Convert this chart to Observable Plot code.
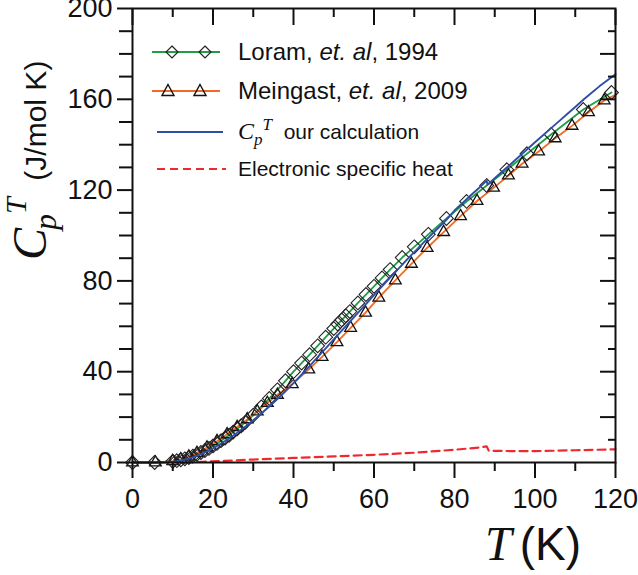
<!DOCTYPE html>
<html>
<head>
<meta charset="utf-8">
<script src="https://cdn.jsdelivr.net/npm/d3@7"></script>
<script src="https://cdn.jsdelivr.net/npm/@observablehq/plot@0.6"></script>
<style>
  body { margin: 0; background: #fff; }
  #wrap { position: relative; width: 638px; height: 575px; overflow: hidden; }
  .sans { font-family: "Liberation Sans", Arial, sans-serif; }
  .serif { font-family: "Liberation Serif", "Times New Roman", serif; font-style: italic; }
  .lrow { position: absolute; left: 148px; display: flex; align-items: center; white-space: nowrap; color: #111; }
</style>
</head>
<body>
<div id="wrap"></div>
<script>
// ---- Data ----
const loramT = [0, 5.5, 10, 11, 12, 13, 14, 15, 16, 17, 18, 19, 20, 21, 22, 23, 24, 25, 26, 27, 28, 30, 32, 34, 36, 38, 40, 42, 44, 46, 48, 50, 51, 52, 53, 54, 56, 58, 60, 62, 64, 67, 70, 73.5, 78, 83, 88, 93, 98, 104, 112, 119];
const loramC = [0, 0, 0.5, 0.8, 1.2, 1.6, 2.2, 2.8, 3.6, 4.4, 5.3, 6.2, 7.3, 8.4, 9.6, 10.8, 12.0, 13.4, 14.8, 16.2, 17.7, 20.8, 24.5, 28.2, 32, 36, 40, 43.8, 47.5, 51.4, 55.2, 59, 61, 62.8, 64.6, 66.5, 70.3, 74, 77.6, 81.3, 85, 90.3, 95, 100.5, 107.5, 115, 122, 129, 136, 144.5, 155.5, 163];

const meinT = [0, 5.7, 10, 12, 14, 16, 18.5, 21, 23.5, 26, 28.5, 31, 33.5, 36, 39.7, 43.8, 47.1, 50.8, 54.2, 57.9, 61.2, 65.3, 69.3, 73.2, 77.3, 81.5, 85.6, 89.7, 93.4, 96.8, 100.9, 105, 109.2, 113.3, 117.2];
const meinC = [0, 0, 0.6, 1.4, 2.6, 4.2, 6.6, 9.4, 12.4, 15.6, 19, 22.5, 26.2, 29.8, 34.5, 41, 46.5, 53, 59.3, 66, 72.6, 80.2, 87.5, 94.5, 101.5, 108.5, 115.2, 121, 126.4, 131.6, 137, 142.8, 148.3, 154.3, 159.5];
const meinLineEndT = 120;
const meinLineEndC = 162;

const calcT = [0, 8, 10, 12, 14, 16, 18, 20, 22, 24, 26, 28, 30, 32, 34, 36, 38, 40, 42, 44, 46, 48, 50, 52, 54, 56, 58, 60, 62, 64, 66, 68, 70, 72, 74, 76, 78, 80, 82, 84, 86, 88, 88.2, 90, 92, 94, 96, 98, 100, 102, 104, 106, 108, 110, 112, 114, 116, 118, 120];
const calcC = [0, 0, 0.2, 0.8, 1.7, 2.9, 4.4, 6.2, 8.3, 10.6, 13.1, 15.8, 18.6, 21.6, 24.7, 28, 31.4, 35, 38.7, 42.5, 46.4, 50.3, 54.2, 58.1, 62, 65.9, 69.8, 73.7, 77.6, 81.4, 85.2, 89, 92.7, 96.3, 99.9, 103.4, 106.9, 111, 114.3, 117.6, 120.8, 124.2, 122.4, 125.2, 128.4, 131.5, 134.7, 137.9, 141.1, 144.2, 147.3, 150.4, 153.5, 156.6, 159.8, 162.8, 165.7, 168.4, 171];

const elecT = [13, 20, 30, 40, 50, 60, 70, 80, 86, 88, 88.5, 95, 100, 110, 120];
const elecC = [0, 0.5, 1.3, 2.0, 2.7, 3.4, 4.3, 5.6, 6.6, 7.1, 5.2, 5.0, 5.0, 5.4, 5.8];

const xMajorTicks = [0, 20, 40, 60, 80, 100, 120];
const xMinorTicks = [10, 30, 50, 70, 90, 110];
const yLabelTicks = [0, 40, 80, 120, 160, 200];
const yOtherTicks = [10, 20, 30, 50, 60, 70, 90, 100, 110, 130, 140, 150, 170, 180, 190];
const yRightMajor = [20, 40, 60, 80, 100, 120, 140, 160, 180];
const yRightMinor = [10, 30, 50, 70, 90, 110, 130, 150, 170, 190];

const colors = { loram: "#1f9e45", mein: "#f26a21", calc: "#2f4ea5", elec: "#ee2a31" };

// ---- Tables ----
const zip = (xs, ys) => xs.map((t, i) => ({T: t, C: ys[i]}));
const loram = zip(loramT, loramC);
const mein = zip(meinT, meinC);
const meinLine = mein.concat([{T: meinLineEndT, C: meinLineEndC}]);
const calc = zip(calcT, calcC);
const elec = zip(elecT, elecC);

const fontSans = "Liberation Sans, Arial, sans-serif";

const chart = Plot.plot({
  width: 638,
  height: 575,
  marginLeft: 132,
  marginRight: 23,
  marginTop: 8,
  marginBottom: 113,
  style: { fontFamily: fontSans, background: "white", color: "#111" },
  x: { domain: [0, 120] },
  y: { domain: [0, 200] },
  marks: [
    // curves
    Plot.line(elec, {x: "T", y: "C", stroke: colors.elec, strokeWidth: 2.2, strokeDasharray: "8,5"}),
    Plot.line(loram, {x: "T", y: "C", stroke: colors.loram, strokeWidth: 1.8}),
    Plot.line(meinLine, {x: "T", y: "C", stroke: colors.mein, strokeWidth: 1.8}),
    Plot.dot(mein, {x: "T", y: "C", symbol: "triangle2", r: 5.6, stroke: "#111", strokeWidth: 1.3, fill: "none"}),
    Plot.dot(loram, {x: "T", y: "C", symbol: "diamond2", r: 6.2, stroke: "#222", strokeWidth: 1.1, fill: "none"}),
    Plot.line(calc, {x: "T", y: "C", stroke: colors.calc, strokeWidth: 1.9}),
    // frame and axes
    Plot.frame({stroke: "#111", strokeWidth: 2}),
    Plot.axisX(xMajorTicks, {anchor: "bottom", tickSize: 16, tickPadding: 10, fontSize: 27, strokeWidth: 2, label: null}),
    Plot.axisX(xMinorTicks, {anchor: "bottom", tickSize: 9, tickFormat: () => "", strokeWidth: 2, label: null}),
    Plot.axisX(xMajorTicks, {anchor: "top", tickSize: -16, tickFormat: () => "", strokeWidth: 2, label: null}),
    Plot.axisX(xMinorTicks, {anchor: "top", tickSize: -8, tickFormat: () => "", strokeWidth: 2, label: null}),
    Plot.axisY(yLabelTicks, {anchor: "left", tickSize: 15, tickPadding: 5, fontSize: 27, strokeWidth: 2, label: null}),
    Plot.axisY(yOtherTicks, {anchor: "left", tickSize: 13, tickFormat: () => "", strokeWidth: 2, label: null}),
    Plot.axisY(yRightMajor, {anchor: "right", tickSize: -16, tickFormat: () => "", strokeWidth: 2, label: null}),
    Plot.axisY(yRightMinor, {anchor: "right", tickSize: -8, tickFormat: () => "", strokeWidth: 2, label: null})
  ]
});

const wrap = document.getElementById("wrap");
wrap.appendChild(chart);

// ---- Axis titles ----
const ylab = document.createElement("div");
ylab.style.cssText = "position:absolute;left:6px;top:260px;transform-origin:0 0;transform:rotate(-90deg);white-space:nowrap;line-height:1;color:#111;";
ylab.innerHTML =
  '<span class="serif" style="font-size:48px;">C</span>' +
  '<span class="serif" style="font-size:32px;position:relative;top:10px;margin-left:-2px;">p</span>' +
  '<span class="serif" style="font-size:30px;position:relative;top:-20px;">T</span>' +
  '<span class="sans" style="font-size:30px;">&nbsp;&nbsp;(J/mol K)</span>';
wrap.appendChild(ylab);

const xlab = document.createElement("div");
xlab.style.cssText = "position:absolute;left:485px;top:520px;white-space:nowrap;line-height:1;color:#111;";
xlab.innerHTML =
  '<span class="serif" style="font-size:48px;">T</span>' +
  '<span class="sans" style="font-size:46px;margin-left:8px;">(K)</span>';
wrap.appendChild(xlab);

// ---- Legend ----
function swatch(kind) {
  const w = 80, h = 24, cy = 12;
  let s = `<svg width="${w}" height="${h}" style="flex:none">`;
  if (kind === "loram") {
    s += `<line x1="4" x2="72" y1="${cy}" y2="${cy}" stroke="${colors.loram}" stroke-width="2"/>`;
    for (const cx of [24, 57]) s += `<path d="M${cx},${cy-6}L${cx+6},${cy}L${cx},${cy+6}L${cx-6},${cy}Z" fill="none" stroke="#222" stroke-width="1.2"/>`;
  } else if (kind === "mein") {
    s += `<line x1="4" x2="72" y1="${cy}" y2="${cy}" stroke="${colors.mein}" stroke-width="2"/>`;
    for (const cx of [20, 52]) s += `<path d="M${cx},${cy-6.5}L${cx+6},${cy+4.5}L${cx-6},${cy+4.5}Z" fill="none" stroke="#111" stroke-width="1.4"/>`;
  } else if (kind === "calc") {
    s += `<line x1="9" x2="75" y1="${cy}" y2="${cy}" stroke="${colors.calc}" stroke-width="2"/>`;
  } else {
    s += `<line x1="9" x2="78" y1="${cy}" y2="${cy}" stroke="${colors.elec}" stroke-width="2.2" stroke-dasharray="8,5"/>`;
  }
  return s + "</svg>";
}
const rows = [
  {top: 38, kind: "loram", html: '<span class="sans" style="font-size:24px;margin-left:10px;">Loram, <i>et. al</i>, 1994</span>'},
  {top: 77, kind: "mein", html: '<span class="sans" style="font-size:24px;margin-left:10px;">Meingast, <i>et. al</i>, 2009</span>'},
  {top: 118, kind: "calc", html: '<span style="margin-left:10px;"><span class="serif" style="font-size:24px;">C</span><span class="serif" style="font-size:17px;position:relative;top:6px;">p</span><span class="serif" style="font-size:17px;position:relative;top:-9px;">T</span><span class="sans" style="font-size:21px;">&nbsp; our calculation</span></span>'},
  {top: 157, kind: "elec", html: '<span class="sans" style="font-size:21px;margin-left:10px;">Electronic specific heat</span>'}
];
for (const r of rows) {
  const d = document.createElement("div");
  d.className = "lrow";
  d.style.top = r.top + "px";
  d.innerHTML = swatch(r.kind) + r.html;
  wrap.appendChild(d);
}
</script>
</body>
</html>
